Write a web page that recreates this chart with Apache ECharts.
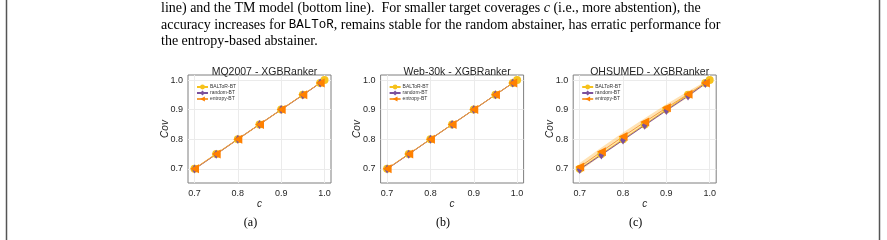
<!DOCTYPE html>
<html>
<head>
<meta charset="utf-8">
<script src="https://cdn.jsdelivr.net/npm/echarts@6/dist/echarts.min.js"></script>
<style>
html, body { margin: 0; padding: 0; background: #fff; }
#main { width: 887px; height: 240px; }
</style>
</head>
<body>
<div id="main"></div>
<script>
// coverage targets c
const cTargets = [0.7, 0.75, 0.8, 0.85, 0.9, 0.95, 0.99];
const cBaltor = [0.7, 0.75, 0.8, 0.85, 0.9, 0.95, 0.99, 1.0];
const xTicks = [0.7, 0.8, 0.9, 1.0];
const yTicks = [0.7, 0.8, 0.9, 1.0];
const panelTitles = ["MQ2007 - XGBRanker", "Web-30k - XGBRanker", "OHSUMED - XGBRanker"];
const panelLetters = ["(a)", "(b)", "(c)"];
const seriesNames = ["BALToR-BT", "random-BT", "entropy-BT"];

// MQ2007
const mqBaltor = [0.7, 0.75, 0.8, 0.85, 0.9, 0.95, 0.99, 1.0];
const mqRandom = [0.699, 0.749, 0.8, 0.85, 0.9, 0.949, 0.99];
const mqRandomErr = [0.009, 0.008, 0.008, 0.008, 0.008, 0.007, 0.006];
const mqEntropy = [0.7, 0.75, 0.8, 0.85, 0.9, 0.95, 0.99];
const mqEntropyBand = [0.003, 0.003, 0.003, 0.003, 0.003, 0.002, 0.002];
// Web-30k
const webBaltor = [0.7, 0.75, 0.8, 0.85, 0.9, 0.95, 0.99, 1.0];
const webRandom = [0.699, 0.749, 0.8, 0.85, 0.9, 0.95, 0.99];
const webRandomErr = [0.008, 0.007, 0.007, 0.007, 0.007, 0.006, 0.006];
const webEntropy = [0.7, 0.75, 0.8, 0.85, 0.9, 0.95, 0.99];
const webEntropyBand = [0.002, 0.002, 0.002, 0.002, 0.002, 0.002, 0.002];
// OHSUMED
const ohBaltor = [0.7, 0.75, 0.8, 0.85, 0.9, 0.95, 0.99, 1.0];
const ohRandom = [0.698, 0.747, 0.797, 0.847, 0.897, 0.946, 0.988];
const ohRandomErr = [0.009, 0.009, 0.009, 0.009, 0.008, 0.008, 0.007];
const ohEntropy = [0.706, 0.758, 0.809, 0.858, 0.906, 0.952, 0.99];
const ohEntropyBand = [0.014, 0.014, 0.014, 0.013, 0.012, 0.01, 0.005];

const panels = [
  { baltor: mqBaltor, random: mqRandom, randomErr: mqRandomErr, entropy: mqEntropy, band: mqEntropyBand },
  { baltor: webBaltor, random: webRandom, randomErr: webRandomErr, entropy: webEntropy, band: webEntropyBand },
  { baltor: ohBaltor, random: ohRandom, randomErr: ohRandomErr, entropy: ohEntropy, band: ohEntropyBand }
];

const YELLOW = "#f6c21c";
const PURPLE = "#7b519d";
const ORANGE = "#ff8000";
const leftTri = "path://M0,5L10,0L10,10Z";
const sans = "Liberation Sans";
const serif = "Liberation Serif";

const gridLeft0 = 188;
const gridStep = 192.6;
const gridTop = 75;
const gridW = 143;
const gridH = 108;

const grids = [], xAxes = [], yAxes = [], legends = [], titles = [], series = [];

panels.forEach((p, i) => {
  const left = gridLeft0 + gridStep * i;
  grids.push({
    left: left, top: gridTop, width: gridW, height: gridH,
    show: true, borderColor: "#7f7f7f", borderWidth: 1, backgroundColor: "#fff"
  });
  xAxes.push({
    type: "value", gridIndex: i, min: 0.685, max: 1.015,
    axisLine: { show: false },
    axisTick: { show: false, customValues: xTicks },
    axisLabel: { customValues: xTicks, formatter: v => v.toFixed(1), fontSize: 9, color: "#262626", margin: 6, fontFamily: sans },
    splitLine: { show: true, lineStyle: { color: "#ebebeb", width: 1 } },
    name: "c", nameLocation: "middle", nameGap: 13,
    nameTextStyle: { fontStyle: "italic", fontSize: 10, color: "#262626", fontFamily: sans }
  });
  yAxes.push({
    type: "value", gridIndex: i, min: 0.652, max: 1.017,
    axisLine: { show: false },
    axisTick: { show: false, customValues: yTicks },
    axisLabel: { customValues: yTicks, formatter: v => v.toFixed(1), fontSize: 9, color: "#262626", margin: 5, fontFamily: sans },
    splitLine: { show: true, lineStyle: { color: "#ebebeb", width: 1 } },
    name: "Cov", nameLocation: "middle", nameGap: 18, nameMoveOverlap: false,
    nameTextStyle: { fontStyle: "italic", fontSize: 10, color: "#262626", fontFamily: sans }
  });
  titles.push({
    text: panelTitles[i], left: left + gridW / 2, top: 62, textAlign: "center",
    textStyle: { fontSize: 10.5, fontWeight: "normal", color: "#262626", fontFamily: sans }
  });
  titles.push({
    text: panelLetters[i], left: left + gridW / 2 - 14, top: 212, textAlign: "center",
    textStyle: { fontSize: 12, fontWeight: "normal", color: "#000", fontFamily: serif }
  });
  legends.push({
    data: seriesNames, orient: "vertical", left: left + 3, top: 79,
    itemWidth: 11, itemHeight: 6, itemGap: 0,
    textStyle: { fontSize: 5, lineHeight: 6, color: "#333", fontFamily: sans, padding: [0, 0, 0, -3] },
    selectedMode: false
  });

  // shaded band of the entropy abstainer
  series.push({
    type: "custom", xAxisIndex: i, yAxisIndex: i, silent: true,
    data: cTargets.map((c, k) => [c, p.entropy[k] - p.band[k], p.entropy[k] + p.band[k]]),
    encode: { x: 0, y: [1, 2] },
    renderItem: (params, api) => {
      if (params.dataIndex !== 0) return null;
      const n = params.dataInsideLength;
      const pts = [];
      for (let k = 0; k < n; k++) pts.push(api.coord([api.value(0, k), api.value(2, k)]));
      for (let k = n - 1; k >= 0; k--) pts.push(api.coord([api.value(0, k), api.value(1, k)]));
      return { type: "polygon", shape: { points: pts }, style: { fill: "rgba(255,185,70,0.4)" } };
    }
  });
  series.push({
    name: seriesNames[0], type: "line", xAxisIndex: i, yAxisIndex: i,
    data: cBaltor.map((c, k) => [c, p.baltor[k]]),
    symbol: "circle", symbolSize: 8, itemStyle: { color: YELLOW },
    lineStyle: { color: YELLOW, width: 1 }, animation: false
  });
  // error bars of the random abstainer
  series.push({
    type: "custom", xAxisIndex: i, yAxisIndex: i, silent: true,
    data: cTargets.map((c, k) => [c, p.random[k] - p.randomErr[k], p.random[k] + p.randomErr[k]]),
    encode: { x: 0, y: [1, 2] },
    renderItem: (params, api) => {
      const a = api.coord([api.value(0), api.value(1)]);
      const b = api.coord([api.value(0), api.value(2)]);
      return { type: "line", shape: { x1: a[0], y1: a[1], x2: b[0], y2: b[1] }, style: { stroke: PURPLE, lineWidth: 1.2 } };
    }
  });
  series.push({
    name: seriesNames[1], type: "line", xAxisIndex: i, yAxisIndex: i,
    data: cTargets.map((c, k) => [c, p.random[k]]),
    symbol: "diamond", symbolSize: [6, 9], itemStyle: { color: PURPLE },
    lineStyle: { color: PURPLE, width: 1 }, animation: false
  });
  series.push({
    name: seriesNames[2], type: "line", xAxisIndex: i, yAxisIndex: i,
    data: cTargets.map((c, k) => [c, p.entropy[k]]),
    symbol: leftTri, symbolSize: 9, itemStyle: { color: ORANGE },
    lineStyle: { color: "#f5a040", width: 1 }, animation: false
  });
});

// page text around the figure
const paraLines = [
  "line) and the TM model (bottom line).  For smaller target coverages {i|c} (i.e., more abstention), the",
  "accuracy increases for {m|BALToR}, remains stable for the random abstainer, has erratic performance for",
  "the entropy-based abstainer."
];
const paraTop = [1.5, 18, 34.5];

const graphics = paraLines.map((t, k) => ({
  type: "text", left: 161, top: paraTop[k],
  style: {
    text: t, fill: "#000", font: "14px " + serif,
    rich: { i: { fontStyle: "italic", fontFamily: serif, fontSize: 14 }, m: { fontFamily: "Liberation Mono", fontSize: 12.5 } }
  }
}));
graphics.push({ type: "rect", shape: { x: 6.5, y: -2, width: 873, height: 250 }, style: { fill: "none", stroke: "#555", lineWidth: 1.5 }, silent: true });

const chart = echarts.init(document.getElementById("main"));
chart.setOption({
  backgroundColor: "#fff",
  animation: false,
  title: titles,
  legend: legends,
  grid: grids,
  xAxis: xAxes,
  yAxis: yAxes,
  series: series,
  graphic: graphics
});
</script>
</body>
</html>
